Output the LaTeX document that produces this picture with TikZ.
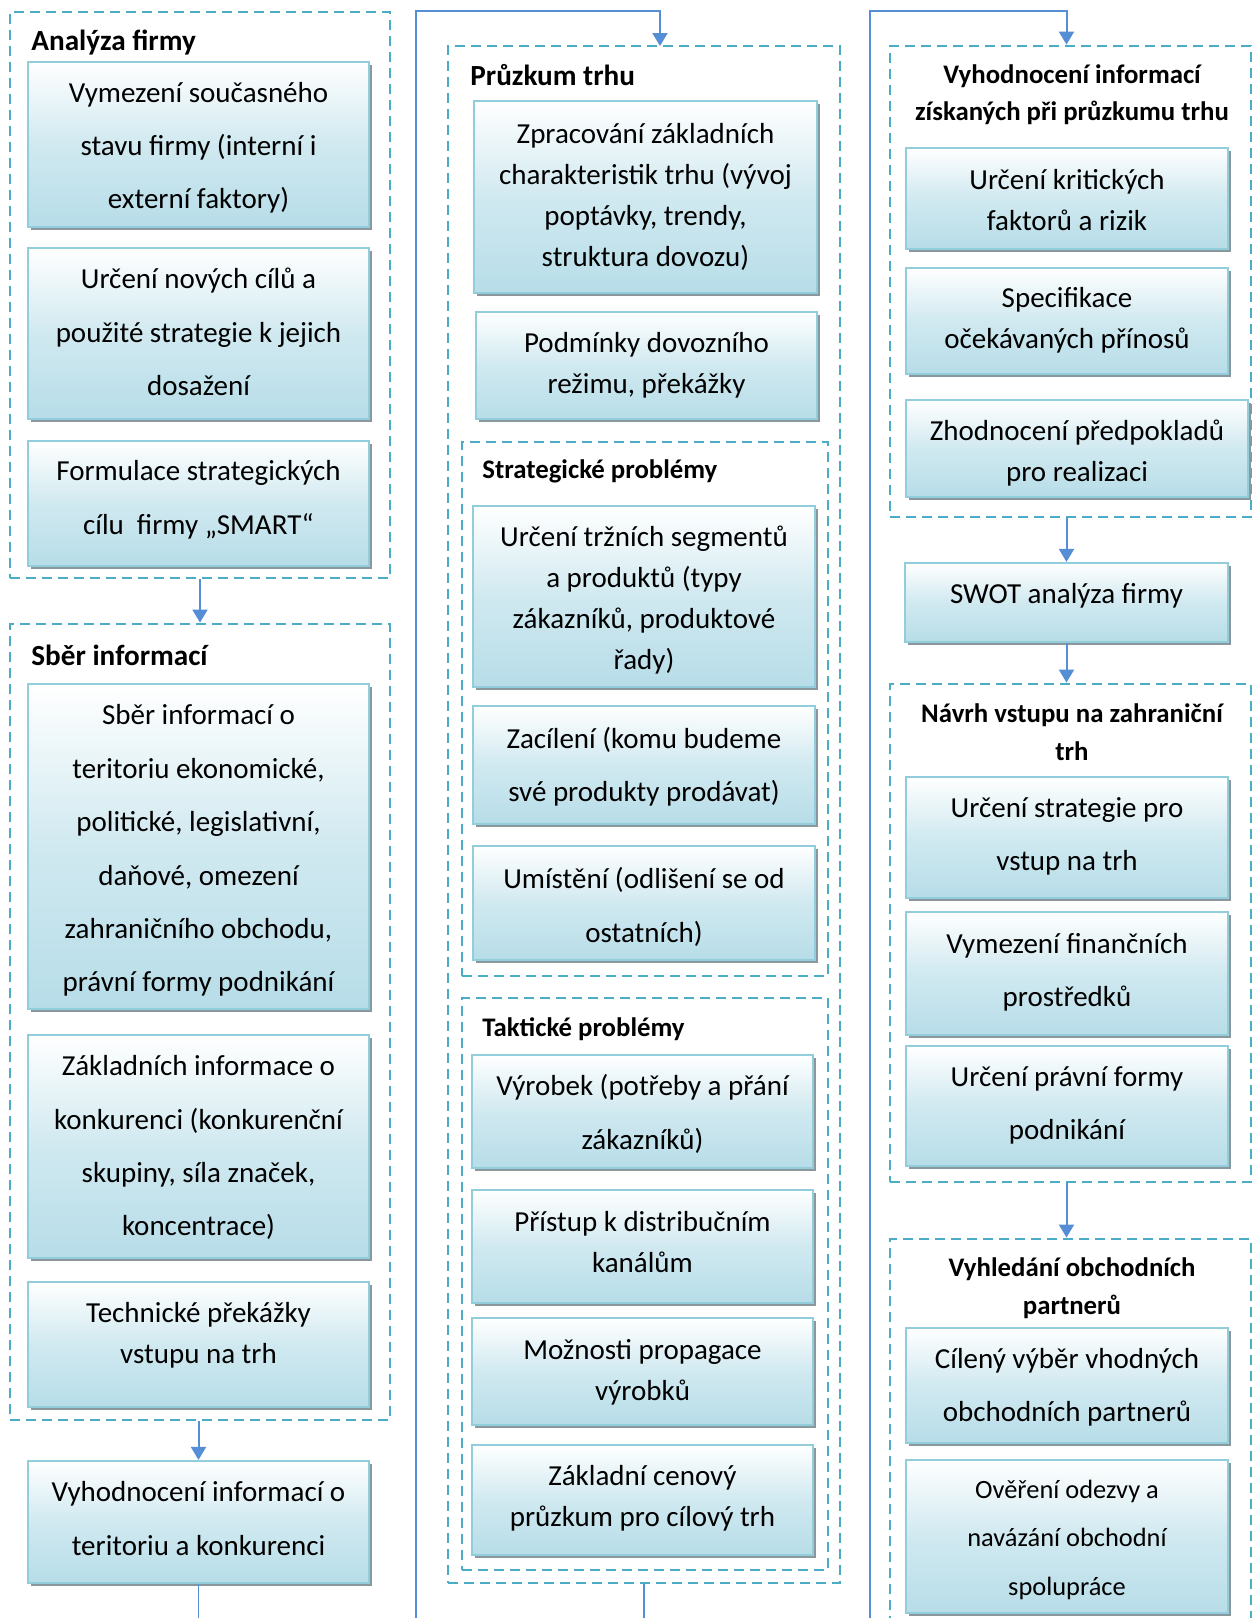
\documentclass[tikz,border=0pt]{standalone}
\usepackage{fontspec}
\setmainfont{Carlito}
\usepackage{xcolor}
\usetikzlibrary{arrows.meta,fit,shadows}

\definecolor{dashblue}{RGB}{75,172,198}
\definecolor{arrowblue}{RGB}{85,142,213}
\definecolor{boxblue}{RGB}{183,221,232}
\definecolor{boxedge}{RGB}{146,205,220}
\definecolor{shadowgray}{RGB}{138,152,158}

\tikzset{
  infobox/.style={draw=boxedge, line width=1.1pt, top color=white, bottom color=boxblue,
    middle color=boxblue!65!white, inner sep=0pt,
    drop shadow={shadow xshift=1.7pt, shadow yshift=-1.7pt, fill=shadowgray, opacity=1}},
  boxtext/.style={inner sep=0pt, align=center, font=\fontsize{14.5}{20.5}\selectfont},
  widetext/.style={boxtext, font=\fontsize{14.5}{26.7}\selectfont},
  smalltext/.style={boxtext, font=\fontsize{13.2}{24.2}\selectfont},
  groupbox/.style={draw=dashblue, line width=1.4pt, dash pattern=on 5pt off 3pt, inner sep=0pt},
  grouptitle/.style={inner sep=0pt, font=\fontsize{14.6}{19}\selectfont\bfseries},
  subtitle/.style={inner sep=0pt, align=center, font=\fontsize{13.4}{18.7}\selectfont\bfseries},
  flow/.style={draw=arrowblue, line width=1pt, -{Triangle[width=7.5pt,length=6.5pt]}},
  link/.style={draw=arrowblue, line width=0.8pt},
}

\begin{document}
\begin{tikzpicture}[x=0.5pt,y=-0.5pt]
  \useasboundingbox (0,0) rectangle (1253,1618);
  \clip (0,0) rectangle (1253,1618);

  \coordinate (top) at (0,11);
  \coordinate (bottom) at (0,1618);

  % analyza firmy
  \node[groupbox, fit={(10,12) (390,578)}] (af) {};
  \node[grouptitle, anchor=west] (aftitle) at (31,43) {Analýza firmy};
  \node[infobox, fit={(28,62) (369,227)}] (af1) {};
  \node[widetext, yshift=-1.6pt] (af1txt) at (af1) {Vymezení současného\\stavu firmy (interní i\\externí faktory)};
  \node[infobox, fit={(28,248) (369,419)}] (af2) {};
  \node[widetext, yshift=0.7pt] (af2txt) at (af2) {Určení nových cílů a\\použité strategie k jejich\\dosažení};
  \node[infobox, fit={(28,441) (369,566)}] (af3) {};
  \node[widetext, yshift=1.8pt] (af3txt) at (af3) {Formulace strategických\\cílu\ \ firmy „SMART“};

  % sber informaci
  \node[groupbox, fit={(10,624) (390,1420)}] (si) {};
  \node[grouptitle, anchor=west] (sititle) at (31,655) {Sběr informací};
  \node[infobox, fit={(28,684) (369,1009)}] (si1) {};
  \node[widetext, yshift=-2.1pt] (si1txt) at (si1) {Sběr informací o\\teritoriu ekonomické,\\politické, legislativní,\\daňové, omezení\\zahraničního obchodu,\\právní formy podnikání};
  \node[infobox, fit={(28,1035) (369,1258)}] (si2) {};
  \node[widetext, yshift=-0.6pt] (si2txt) at (si2) {Základních informace o\\konkurenci (konkurenční\\skupiny, síla značek,\\koncentrace)};
  \node[infobox, fit={(28,1282) (369,1407)}] (si3) {};
  \node[boxtext, yshift=4.6pt] (si3txt) at (si3) {Technické překážky\\vstupu na trh};

  \node[infobox, fit={(28,1461) (369,1583)}] (ev) {};
  \node[widetext, yshift=1.8pt] (evtxt) at (ev) {Vyhodnocení informací o\\teritoriu a konkurenci};

  % pruzkum trhu
  \node[groupbox, fit={(448,46) (840,1583)}] (pt) {};
  \node[grouptitle, anchor=west] (pttitle) at (470,75) {Průzkum trhu};
  \node[infobox, fit={(474,101) (817,293)}] (pt1) {};
  \node[boxtext, yshift=0.2pt] (pt1txt) at (pt1) {Zpracování základních\\charakteristik trhu (vývoj\\poptávky, trendy,\\struktura dovozu)};
  \node[infobox, fit={(476,312) (817,419)}] (pt2) {};
  \node[boxtext] (pt2txt) at (pt2) {Podmínky dovozního\\režimu, překážky};

  \node[groupbox, fit={(462,442) (828,976)}] (sp) {};
  \node[subtitle, anchor=west] (sptitle) at (482,471) {Strategické problémy};
  \node[infobox, fit={(473,506) (815,687)}] (sp1) {};
  \node[boxtext, yshift=-1.6pt] (sp1txt) at (sp1) {Určení tržních segmentů\\a produktů (typy\\zákazníků, produktové\\řady)};
  \node[infobox, fit={(473,706) (815,824)}] (sp2) {};
  \node[widetext, yshift=-0.8pt] (sp2txt) at (sp2) {Zacílení (komu budeme\\své produkty prodávat)};
  \node[infobox, fit={(473,846) (815,960)}] (sp3) {};
  \node[widetext, yshift=-1.9pt] (sp3txt) at (sp3) {Umístění (odlišení se od\\ostatních)};

  \node[groupbox, fit={(462,998) (828,1570)}] (tp) {};
  \node[subtitle, anchor=west] (tptitle) at (482,1029) {Taktické problémy};
  \node[infobox, fit={(472,1055) (813,1168)}] (tp1) {};
  \node[widetext, yshift=-1.1pt] (tp1txt) at (tp1) {Výrobek (potřeby a přání\\zákazníků)};
  \node[infobox, fit={(472,1190) (813,1303)}] (tp2) {};
  \node[boxtext, yshift=2.3pt] (tp2txt) at (tp2) {Přístup k distribučním\\kanálům};
  \node[infobox, fit={(472,1318) (813,1425)}] (tp3) {};
  \node[boxtext, yshift=-0.6pt] (tp3txt) at (tp3) {Možnosti propagace\\výrobků};
  \node[infobox, fit={(472,1445) (813,1555)}] (tp4) {};
  \node[boxtext, yshift=1pt] (tp4txt) at (tp4) {Základní cenový\\průzkum pro cílový trh};

  % vyhodnoceni, swot, navrh vstupu
  \node[groupbox, fit={(890,46) (1251,517)}] (vi) {};
  \node[subtitle] (vititle) at (1072,95) {Vyhodnocení informací\\získaných při průzkumu trhu};
  \node[infobox, fit={(906,148) (1228,249)}] (vi1) {};
  \node[boxtext, yshift=-0.6pt] (vi1txt) at (vi1) {Určení kritických\\faktorů a rizik};
  \node[infobox, fit={(906,268) (1228,374)}] (vi2) {};
  \node[boxtext, yshift=0.2pt] (vi2txt) at (vi2) {Specifikace\\očekávaných přínosů};
  \node[infobox, fit={(906,400) (1248,497)}] (vi3) {};
  \node[boxtext, yshift=-2.1pt] (vi3txt) at (vi3) {Zhodnocení předpokladů\\pro realizaci};

  \node[infobox, fit={(905,563) (1228,642)}] (swot) {};
  \node[boxtext, yshift=3.6pt] (swottxt) at (swot) {SWOT analýza firmy};

  \node[groupbox, fit={(890,684) (1251,1182)}] (nv) {};
  \node[subtitle] (nvtitle) at (1072,732) {Návrh vstupu na zahraniční\\trh};
  \node[infobox, fit={(906,777) (1228,898)}] (nv1) {};
  \node[widetext, yshift=0.7pt] (nv1txt) at (nv1) {Určení strategie pro\\vstup na trh};
  \node[infobox, fit={(906,912) (1228,1035)}] (nv2) {};
  \node[widetext, yshift=0.7pt] (nv2txt) at (nv2) {Vymezení finančních\\prostředků};
  \node[infobox, fit={(906,1046) (1228,1166)}] (nv3) {};
  \node[widetext, yshift=0.2pt] (nv3txt) at (nv3) {Určení právní formy\\podnikání};

  \node[groupbox, fit={(890,1239) (1251,1660)}] (vo) {};
  \node[subtitle] (votitle) at (1072,1288) {Vyhledání obchodních\\partnerů};
  \node[infobox, fit={(906,1328) (1228,1443)}] (vo1) {};
  \node[widetext, yshift=-0.8pt] (vo1txt) at (vo1) {Cílený výběr vhodných\\obchodních partnerů};
  \node[infobox, fit={(906,1460) (1228,1613)}] (vo2) {};
  \node[smalltext, yshift=-1.7pt] (vo2txt) at (vo2) {Ověření odezvy a\\navázání obchodní\\spolupráce};

  % connectors
  \coordinate (ptin) at (416,1618);
  \coordinate (ptentry) at (660,46);
  \coordinate (viin) at (870,1618);

  \draw[flow] (af.south) -- (si.north);
  \draw[flow] (si.south -| ev.north) -- (ev.north);
  \draw[link] (ev.south) -- (ev.south |- bottom);

  \draw[flow] (ptin) |- (ptentry |- top) -- (ptentry);
  \draw[link] (pt.south) -- (pt.south |- bottom);

  \draw[flow] (viin) |- (swot.north |- top) -- (swot.north |- vi.north);
  \draw[flow] (swot.north |- vi.south) -- (swot.north);
  \draw[flow] (swot.south) -- (swot.south |- nv.north);
  \draw[flow] (swot.south |- nv.south) -- (swot.south |- vo.north);
\end{tikzpicture}
\end{document}
